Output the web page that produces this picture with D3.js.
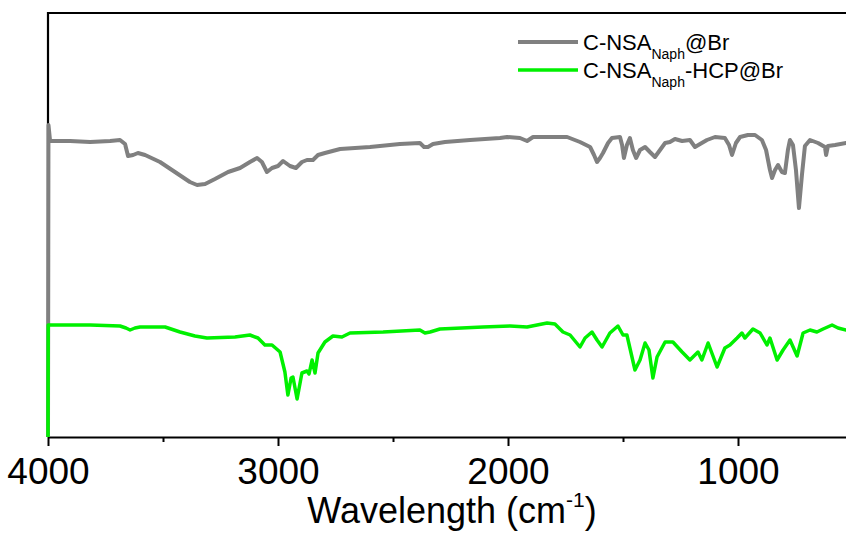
<!DOCTYPE html>
<html>
<head>
<meta charset="utf-8">
<script src="https://cdn.jsdelivr.net/npm/d3@7"></script>
<style>
  body { margin: 0; background: #fff; }
  text { font-family: "Liberation Sans", Arial, sans-serif; }
</style>
</head>
<body>
<div id="chart"></div>
<script>
// Data (wavenumber in cm-1, transmittance in arbitrary units)
var grayWn = [4000, 3998, 3991, 3904, 3817, 3730, 3687, 3665, 3652, 3630, 3609, 3578, 3513, 3448, 3383, 3352, 3317, 3274, 3217, 3165, 3122, 3091, 3070, 3048, 3026, 3000, 2978, 2948, 2922, 2896, 2874, 2848, 2826, 2796, 2730, 2600, 2470, 2383, 2365, 2348, 2326, 2274, 2165, 2035, 2004, 1948, 1917, 1891, 1817, 1743, 1687, 1643, 1626, 1613, 1600, 1587, 1565, 1548, 1513, 1504, 1496, 1483, 1470, 1457, 1443, 1426, 1404, 1383, 1361, 1339, 1317, 1296, 1274, 1243, 1209, 1187, 1165, 1135, 1100, 1057, 1039, 1026, 1009, 991, 957, 926, 896, 878, 861, 852, 839, 826, 809, 796, 783, 774, 761, 748, 735, 722, 709, 687, 652, 622, 617, 609, 578, 530, 500];
var grayT = [0, 312, 296, 296, 295, 296, 297, 293, 281, 282, 284, 282, 275, 265, 255, 252, 253, 258, 265, 269, 275, 279, 275, 265, 269, 271, 276, 271, 269, 275, 277, 277, 282, 284, 288, 290, 293, 294, 290, 290, 293, 295, 297, 299, 300, 299, 296, 300, 300, 300, 295, 290, 282, 275, 279, 284, 294, 299, 300, 292, 279, 292, 299, 287, 279, 287, 290, 285, 280, 287, 294, 295, 298, 296, 297, 290, 293, 297, 300, 299, 292, 282, 294, 300, 302, 302, 297, 287, 267, 259, 267, 272, 265, 264, 287, 297, 292, 267, 229, 262, 291, 297, 294, 290, 282, 291, 292, 294, 295];

var greenWn = [4000, 3999, 3948, 3817, 3687, 3661, 3643, 3622, 3600, 3491, 3426, 3361, 3309, 3187, 3122, 3087, 3057, 3026, 2991, 2970, 2957, 2943, 2935, 2917, 2896, 2874, 2865, 2852, 2839, 2826, 2796, 2761, 2722, 2687, 2543, 2383, 2361, 2339, 2296, 2109, 1991, 1917, 1830, 1796, 1761, 1730, 1687, 1665, 1635, 1613, 1591, 1557, 1522, 1500, 1483, 1448, 1426, 1404, 1387, 1370, 1352, 1317, 1283, 1243, 1209, 1174, 1157, 1130, 1091, 1057, 1035, 1004, 983, 970, 935, 904, 874, 861, 830, 804, 774, 743, 717, 687, 657, 630, 591, 565, 530, 500];
var greenT = [0, 112, 112, 112, 111, 109, 107, 109, 110, 110, 105, 101, 99, 100, 102, 99, 92, 92, 85, 65, 42, 59, 60, 38, 64, 66, 63, 77, 64, 84, 95, 101, 100, 104, 105, 107, 104, 105, 108, 110, 111, 110, 114, 113, 105, 102, 90, 99, 105, 97, 90, 104, 111, 102, 102, 67, 77, 94, 87, 59, 80, 95, 95, 85, 77, 85, 77, 94, 70, 89, 92, 99, 104, 99, 108, 104, 92, 99, 77, 87, 97, 81, 104, 107, 105, 108, 112, 109, 107, 109];

var majorTicks = [4000, 3000, 2000, 1000],
  minorTicks = [3500, 2500, 1500];

var seriesNames = ["C-NSA", "C-NSA"],
  seriesSubs = ["Naph", "Naph"],
  seriesTails = ["@Br", "-HCP@Br"],
  seriesColors = ["#808080", "#00f000"];

// Placement
var width = 846,
  height = 533,
  mLeft = 48,
  mTop = 13,
  plotBottom = 437,
  plotRight = 853;

var svg = d3.select("#chart")
  .append("svg")
  .attr("width", width)
  .attr("height", height);

var x = d3.scaleLinear()
  .domain([4000, 500])
  .range([mLeft, plotRight]);
var y = d3.scaleLinear()
  .domain([0, 424])
  .range([plotBottom, mTop]);

// frame: top + left
svg.append("line")
  .attr("x1", mLeft).attr("x2", width)
  .attr("y1", mTop).attr("y2", mTop)
  .attr("stroke", "#000").attr("stroke-width", 2.2);
svg.append("line")
  .attr("x1", mLeft).attr("x2", mLeft)
  .attr("y1", mTop - 1).attr("y2", plotBottom)
  .attr("stroke", "#000").attr("stroke-width", 2.2);

// bottom axis
var xAxis = d3.axisBottom(x)
  .tickValues(majorTicks)
  .tickSize(9)
  .tickSizeOuter(0)
  .tickPadding(12)
  .tickFormat(d3.format("d"));
var xMinor = d3.axisBottom(x)
  .tickValues(minorTicks)
  .tickSize(5)
  .tickSizeOuter(0)
  .tickFormat("");

var gx = svg.append("g")
  .attr("transform", "translate(0," + plotBottom + ")")
  .call(xAxis);
gx.select(".domain").attr("stroke-width", 2.2);
gx.selectAll(".tick line").attr("stroke-width", 2);
gx.selectAll(".tick text")
  .attr("font-size", 37)
  .attr("font-family", "Liberation Sans, Arial, sans-serif")
  .attr("fill", "#000");

var gxm = svg.append("g")
  .attr("transform", "translate(0," + plotBottom + ")")
  .call(xMinor);
gxm.select(".domain").remove();
gxm.selectAll(".tick line").attr("stroke-width", 2);

// axis title
var title = svg.append("text")
  .attr("x", 452)
  .attr("y", 523)
  .attr("text-anchor", "middle")
  .attr("font-size", 36)
  .attr("fill", "#000");
title.append("tspan").text("Wavelength (cm");
title.append("tspan").attr("font-size", 21).attr("dy", -16).text("-1");
title.append("tspan").attr("dy", 16).text(")");

// spectra
var line = d3.line()
  .x(function(d) { return x(d[0]); })
  .y(function(d) { return y(d[1]); });

var grayData = grayWn.map(function(w, i) { return [w, grayT[i]]; });
var greenData = greenWn.map(function(w, i) { return [w, greenT[i]]; });

svg.append("path")
  .datum(grayData)
  .attr("fill", "none")
  .attr("stroke", seriesColors[0])
  .attr("stroke-width", 4)
  .attr("stroke-linejoin", "round")
  .attr("d", line);

svg.append("path")
  .datum(greenData)
  .attr("fill", "none")
  .attr("stroke", seriesColors[1])
  .attr("stroke-width", 3.5)
  .attr("stroke-linejoin", "round")
  .attr("d", line);

// legend
var legend = svg.append("g");
seriesNames.forEach(function(name, i) {
  var ly = 42 + i * 28;
  legend.append("line")
    .attr("x1", 518).attr("x2", 578)
    .attr("y1", ly).attr("y2", ly)
    .attr("stroke", seriesColors[i])
    .attr("stroke-width", i == 0 ? 4 : 3.5);
  var t = legend.append("text")
    .attr("x", 583)
    .attr("y", ly + 8)
    .attr("font-size", 22)
    .attr("fill", "#000");
  t.append("tspan").text(name);
  t.append("tspan").attr("font-size", 14).attr("dy", 9).text(seriesSubs[i]);
  t.append("tspan").attr("dy", -9).text(seriesTails[i]);
});
</script>
</body>
</html>
